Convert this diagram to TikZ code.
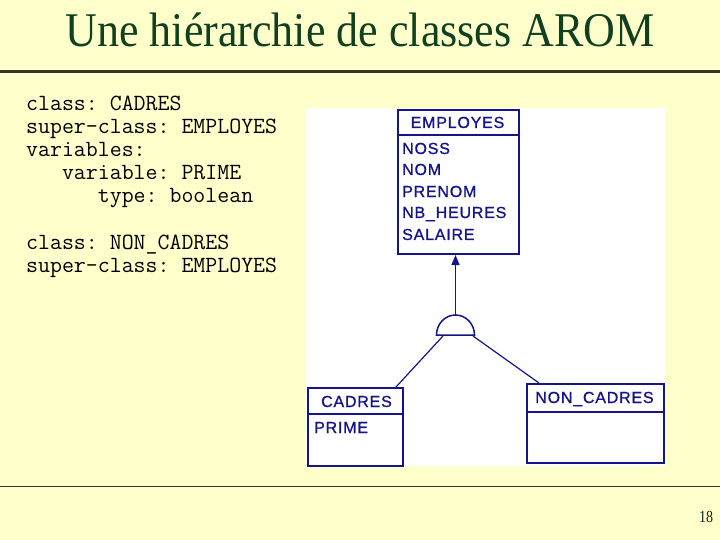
\documentclass[tikz,border=0pt]{standalone}
\usepackage{fontspec}
\setmainfont{Liberation Serif}
\newfontfamily\boxfont[LetterSpace=5,FakeBold=1]{Liberation Sans}
\usetikzlibrary{arrows.meta}
\definecolor{bg}{RGB}{255,255,204}
\definecolor{titlegreen}{RGB}{16,64,32}
\definecolor{rulecol}{RGB}{58,52,36}
\definecolor{navy}{RGB}{20,20,140}
\begin{document}
\begin{tikzpicture}[x=1pt,y=-1pt,
  classbox/.style={draw=navy,line width=2pt,fill=white,inner sep=0pt,anchor=north west},
  attr/.style={font=\boxfont\fontsize{16}{18}\selectfont,text=navy,inner sep=0pt,anchor=base west},
  hdr/.style={font=\boxfont\fontsize{16}{18}\selectfont,text=navy,inner sep=0pt,anchor=base},
  code/.style={font=\ttfamily\frenchspacing\fontsize{23.2}{25}\selectfont,inner sep=0pt,anchor=base west},
  link/.style={draw=navy,line width=1.2pt}]
\fill[bg] (0,0) rectangle (720,540);
\useasboundingbox (0,0) rectangle (720,540);
% title and rules
\node[anchor=base,inner sep=0pt,text=titlegreen] (title) at (360,47)
  {\scalebox{1}[1.1]{\fontsize{44}{48}\selectfont Une hiérarchie de classes AROM}};
\draw[rulecol,line width=3pt] (0,72) -- (720,72);
\draw[rulecol,line width=1pt] (0,486) -- (720,486);
\node[anchor=base,inner sep=0pt,text=titlegreen!60!black] (page) at (706,522)
  {\scalebox{1}[1.2]{\fontsize{14}{16}\selectfont 18}};
% code text
\node[code] (c1) at (26,111) {class: CADRES};
\node[code] (c2) at (26,134) {super-class: EMPLOYES};
\node[code] (c3) at (26,157) {variables:};
\node[code] (c4) at (26,180) {\ \ \ variable: PRIME};
\node[code] (c5) at (26,203) {\ \ \ \ \ \ type: boolean};
\node[code] (c6) at (26,249) {class: NON\_CADRES};
\node[code] (c7) at (26,272) {super-class: EMPLOYES};
% diagram background
\fill[white] (306,108) rectangle (665,466);
% EMPLOYES
\node[classbox,minimum width=121pt,minimum height=144pt] (emp) at (397,109) {};
\draw[navy,line width=2pt] (397,135) -- (518,135);
\node[hdr] (empname) at (457.5,128) {EMPLOYES};
\node[attr] (a1) at (402,154) {NOSS};
\node[attr] (a2) at (402,175) {NOM};
\node[attr] (a3) at (402,197) {PRENOM};
\node[attr] (a4) at (402,218) {NB\_HEURES};
\node[attr] (a5) at (402,240) {SALAIRE};
% CADRES
\node[classbox,minimum width=95pt,minimum height=78pt] (cad) at (307,387) {};
\draw[navy,line width=2pt] (307,414) -- (402,414);
\node[hdr] (cadname) at (356.5,407) {CADRES};
\node[attr] (p1) at (314,433) {PRIME};
% NON_CADRES
\node[classbox,minimum width=137pt,minimum height=79pt] (ncad) at (526,383) {};
\draw[navy,line width=2pt] (526,412) -- (663,412);
\node[hdr] (ncadname) at (594.5,403) {NON\_CADRES};
% generalisation symbol
\coordinate (gtop) at (455.5,315);
\coordinate (gl) at (443,336);
\coordinate (gr) at (473,336);
\draw[navy,line width=1.5pt] (436.5,335) arc[start angle=180,end angle=360,x radius=19,y radius=20] -- cycle;
\draw[link,-{Triangle[width=8pt,length=10pt]}] (gtop) -- (gtop |- emp.south);
\draw[link] (gl) -- (cad.north -| 396,0);
\draw[link] (gr) -- (ncad.north -| 539,0);
\end{tikzpicture}
\end{document}
